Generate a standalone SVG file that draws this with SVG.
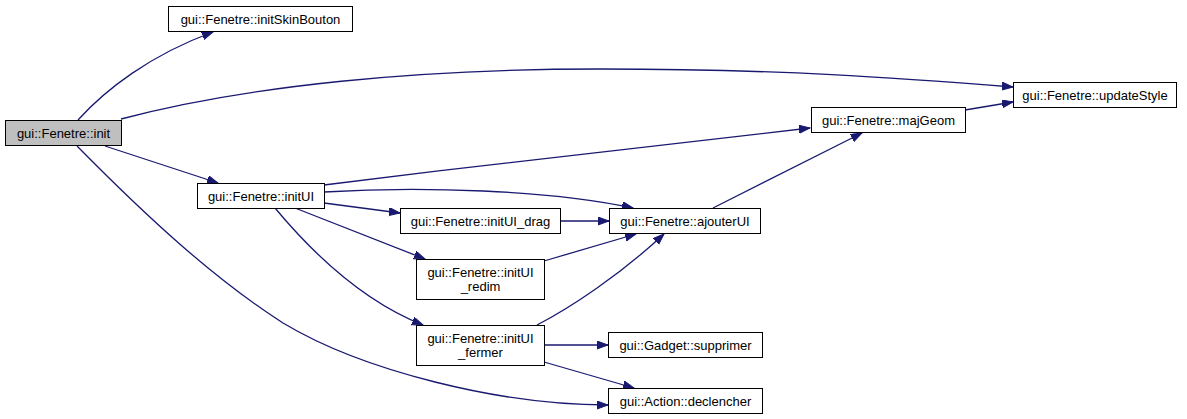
<svg xmlns="http://www.w3.org/2000/svg" width="1187" height="419" viewBox="0 0 1187 419">
<style>
.n rect{fill:#ffffff;stroke:#000000;stroke-width:1}
.n.root rect{fill:#bfbfbf}
.n text{font-family:"Liberation Sans",Arial,sans-serif;font-size:13px;fill:#000000;text-anchor:middle}
.e path{fill:none;stroke:#191970;stroke-width:1.3;marker-end:url(#arr)}
</style>
<defs>
<marker id="arr" markerUnits="userSpaceOnUse" markerWidth="12" markerHeight="9" refX="11" refY="4" orient="auto">
<path d="M0,0 L11,4 L0,8 z" fill="#191970" stroke="#191970" stroke-width="1"/>
</marker>
</defs>
<rect width="1187" height="419" fill="#ffffff"/>
<g id="connectors" class="e">
<path d="M78,120 C105,90 150,55 213,32"/>
<path d="M121,119 C250,85 420,69 600,69 C780,69 900,78 1013,87"/>
<path d="M105,146 L218,183"/>
<path d="M77,146 C147,217 213,278 283,323 C363,371 500,405 608,405"/>
<path d="M324,185 C500,163 700,140 810,128"/>
<path d="M324,192 C420,186 550,190 633,208"/>
<path d="M324,203 L400,213"/>
<path d="M295,208 L425,259"/>
<path d="M275,208 C310,250 360,300 423,325"/>
<path d="M560,221 L609,221"/>
<path d="M544,261 L636,234"/>
<path d="M537,325 C570,308 620,275 664,234"/>
<path d="M713,208 L862,133"/>
<path d="M965,110 L1013,102"/>
<path d="M544,345 L608,345"/>
<path d="M544,362 L634,388"/>
</g>
<g id="n_init" class="n root"><rect x="5.5" y="120.5" width="116" height="25"/><text x="63.5" y="137.5">gui::Fenetre::init</text></g>
<g id="n_initSkinBouton" class="n"><rect x="168.5" y="6.5" width="184" height="25"/><text x="260.5" y="23.5">gui::Fenetre::initSkinBouton</text></g>
<g id="n_updateStyle" class="n"><rect x="1013.5" y="82.5" width="163" height="25"/><text x="1095" y="99.5">gui::Fenetre::updateStyle</text></g>
<g id="n_majGeom" class="n"><rect x="811.5" y="107.5" width="154" height="25"/><text x="888.5" y="124.5">gui::Fenetre::majGeom</text></g>
<g id="n_initUI" class="n"><rect x="197.5" y="183.5" width="127" height="25"/><text x="261" y="200.5">gui::Fenetre::initUI</text></g>
<g id="n_initUI_drag" class="n"><rect x="400.5" y="208.5" width="160" height="25"/><text x="480.5" y="225.5">gui::Fenetre::initUI_drag</text></g>
<g id="n_ajouterUI" class="n"><rect x="609.5" y="208.5" width="151" height="25"/><text x="685" y="225.5">gui::Fenetre::ajouterUI</text></g>
<g id="n_initUI_redim" class="n"><rect x="416.5" y="259.5" width="128" height="40"/><text x="480.5" y="276.5">gui::Fenetre::initUI</text><text x="480.5" y="291">_redim</text></g>
<g id="n_initUI_fermer" class="n"><rect x="416.5" y="325.5" width="128" height="40"/><text x="480.5" y="342.5">gui::Fenetre::initUI</text><text x="480.5" y="357">_fermer</text></g>
<g id="n_supprimer" class="n"><rect x="608.5" y="332.5" width="154" height="25"/><text x="685.5" y="349.5">gui::Gadget::supprimer</text></g>
<g id="n_declencher" class="n"><rect x="608.5" y="388.5" width="154" height="25"/><text x="685.5" y="405.5">gui::Action::declencher</text></g>
</svg>
